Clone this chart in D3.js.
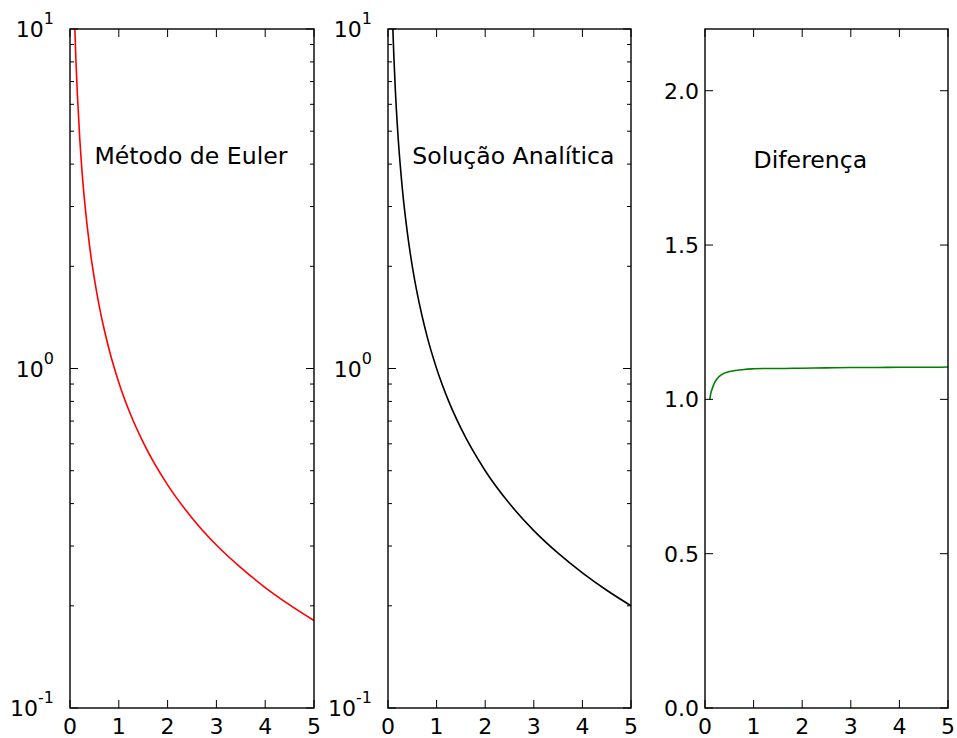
<!DOCTYPE html>
<html>
<head>
<meta charset="utf-8">
<script src="https://cdn.jsdelivr.net/npm/d3@7"></script>
<style>
  body { margin: 0; background: #fff; }
  svg { font-family: "DejaVu Sans", sans-serif; }
</style>
</head>
<body>
<div id="chart"></div>
<script>
// valores
const xs = [0.1, 0.12, 0.15, 0.2, 0.25, 0.3, 0.4, 0.5, 0.6, 0.7, 0.8, 1, 1.25, 1.5, 2, 2.5, 3, 3.5, 4, 4.5, 5]
const euler = [10, 8.17, 6.47, 4.76, 3.75, 3.10, 2.30, 1.835, 1.525, 1.305, 1.14, 0.91, 0.727, 0.606, 0.454, 0.363, 0.302, 0.259, 0.2264, 0.2013, 0.181]
const analitica = [10, 8.33, 6.67, 5, 4, 3.33, 2.5, 2, 1.667, 1.43, 1.25, 1, 0.8, 0.667, 0.5, 0.4, 0.333, 0.2857, 0.25, 0.2222, 0.2]
const diferenca = [1.0, 1.02, 1.035, 1.055, 1.067, 1.075, 1.085, 1.09, 1.093, 1.095, 1.097, 1.099, 1.1, 1.1, 1.101, 1.102, 1.103, 1.103, 1.104, 1.104, 1.105]
const xTicks = [0, 1, 2, 3, 4, 5]
const logTicks = [0.1, 1, 10]
const linTicks = [0, 0.5, 1.0, 1.5, 2.0]

const width = 957, height = 738
const plotTop = 29, plotBottom = 708
const fontSize = 22
const titleSize = 23.6

const svg = d3.select('#chart').append('svg')
    .attr('width', width).attr('height', height)

const panels = [
    { left: 70, right: 314, values: euler, color: '#ff0000', log: true, title: 'Método de Euler', tx: 0.5, ty: 4 },
    { left: 388, right: 631, values: analitica, color: '#000000', log: true, title: 'Solução Analítica', tx: 0.5, ty: 4 },
    { left: 705, right: 948, values: diferenca, color: '#008000', log: false, title: 'Diferença', tx: 1, ty: 1.75 }
]

panels.forEach((p, i) => {
    const xScale = d3.scaleLinear().domain([0, 5]).range([p.left, p.right])
    const yScale = p.log
        ? d3.scaleLog().domain([0.1, 10]).range([plotBottom, plotTop])
        : d3.scaleLinear().domain([0, 2.2]).range([plotBottom, plotTop])

    const g = svg.append('g')

    //clip para a curva
    g.append('clipPath').attr('id', 'clip' + i)
        .append('rect')
        .attr('x', p.left).attr('y', plotTop)
        .attr('width', p.right - p.left).attr('height', plotBottom - plotTop)

    const line = d3.line()
        .x((d, j) => xScale(xs[j]))
        .y(d => yScale(d))
        .curve(d3.curveMonotoneX)

    g.append('path')
        .datum(p.values)
        .attr('clip-path', `url(#clip${i})`)
        .attr('fill', 'none')
        .attr('stroke', p.color)
        .attr('stroke-width', 1.6)
        .attr('d', line)

    // ticks x (baixo e cima, para dentro)
    const tickG = g.append('g').attr('stroke', '#000').attr('stroke-width', 1)
    xTicks.forEach(t => {
        const x = xScale(t)
        tickG.append('line').attr('x1', x).attr('x2', x).attr('y1', plotBottom).attr('y2', plotBottom - 8)
        tickG.append('line').attr('x1', x).attr('x2', x).attr('y1', plotTop).attr('y2', plotTop + 8)
        g.append('text')
            .attr('x', x).attr('y', plotBottom + 26)
            .attr('text-anchor', 'middle')
            .attr('font-size', fontSize)
            .text(t)
    })

    // ticks y
    let majors, minors = []
    if (p.log) {
        majors = logTicks
        for (const dec of [0.1, 1]) {
            for (let k = 2; k <= 9; k++) minors.push(dec * k)
        }
    } else {
        majors = linTicks
    }
    majors.forEach(t => {
        const y = yScale(t)
        tickG.append('line').attr('x1', p.left).attr('x2', p.left + 8).attr('y1', y).attr('y2', y)
        tickG.append('line').attr('x1', p.right).attr('x2', p.right - 8).attr('y1', y).attr('y2', y)
        if (p.log) {
            const exp = Math.round(Math.log10(t))
            const txt = g.append('text')
                .attr('x', p.left - 16).attr('y', y + 8)
                .attr('text-anchor', 'end')
                .attr('font-size', fontSize)
            txt.append('tspan').text('10')
            txt.append('tspan').attr('dy', -13).attr('font-size', 16).text(exp)
        } else {
            g.append('text')
                .attr('x', p.left - 6).attr('y', y + 8)
                .attr('text-anchor', 'end')
                .attr('font-size', fontSize)
                .text(d3.format('.1f')(t))
        }
    })
    minors.forEach(t => {
        const y = yScale(t)
        tickG.append('line').attr('x1', p.left).attr('x2', p.left + 4).attr('y1', y).attr('y2', y)
        tickG.append('line').attr('x1', p.right).attr('x2', p.right - 4).attr('y1', y).attr('y2', y)
    })

    // moldura
    g.append('rect')
        .attr('x', p.left).attr('y', plotTop)
        .attr('width', p.right - p.left).attr('height', plotBottom - plotTop)
        .attr('fill', 'none')
        .attr('stroke', '#000')
        .attr('stroke-width', 1.4)

    // titulo dentro do painel
    g.append('text')
        .attr('x', xScale(p.tx)).attr('y', yScale(p.ty))
        .attr('font-size', titleSize)
        .text(p.title)
})
</script>
</body>
</html>
